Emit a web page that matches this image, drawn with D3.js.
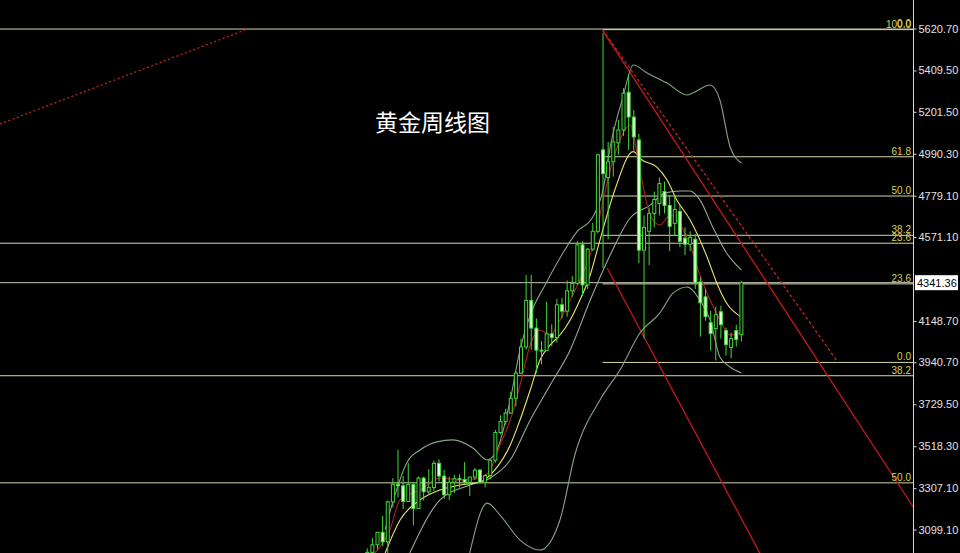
<!DOCTYPE html>
<html><head><meta charset="utf-8">
<script src="https://cdn.jsdelivr.net/npm/d3@7"></script>
<style>html,body{margin:0;padding:0;background:#000;overflow:hidden}</style>
</head><body>
<svg id="c" width="960" height="553"></svg>
<script>
// ---- weekly candles (XAUUSD) ----
const openP  = [2910,2984,3022,3085,3037,3238,3327,3319,3240,3325,3204,3358,3289,3310,3432,3368,3274,3337,3355,3350,3336,3363,3398,3336,3371,3448,3587,3643,3685,3760,3886,4018,4252,4113,4002,4000,4084,4065,4230,4198,4300,4338,4532,4330,4510,4600,5010,4870,4950,5045,5110,5300,5175,5060,4505,4600,4690,4740,4800,4730,4640,4700,4565,4535,4560,4345,4270,4140,4110,4195,4100,4015,4100,4080];
const highP  = [3004,3057,3086,3167,3245,3358,3500,3368,3435,3331,3366,3365,3403,3446,3452,3398,3365,3375,3377,3438,3363,3409,3404,3378,3453,3600,3674,3707,3791,3897,4059,4380,4381,4161,4047,4245,4132,4260,4264,4353,4374,4550,4550,4515,4643,4990,5598,5050,5125,5160,5320,5390,5210,5090,4680,4720,4800,4870,4850,4780,4780,4730,4620,4600,4585,4370,4310,4200,4220,4225,4115,4090,4130,4350];
const lowP   = [2880,2982,3000,3015,2957,3210,3260,3202,3238,3120,3204,3245,3278,3293,3340,3255,3247,3283,3310,3325,3268,3348,3330,3311,3351,3436,3578,3627,3683,3718,3880,4004,4004,3886,3930,3997,4022,4040,4162,4170,4271,4330,4274,4310,4500,4590,4415,4560,4875,4985,5080,5010,5000,4440,4060,4430,4620,4680,4690,4500,4580,4520,4480,4500,4310,4070,4150,4000,3950,4060,3975,3960,4020,4045];
const closeP = [2984,3022,3085,3037,3238,3327,3319,3240,3325,3204,3358,3289,3310,3432,3368,3274,3337,3355,3350,3336,3363,3398,3336,3371,3448,3587,3643,3685,3760,3886,4018,4252,4113,4002,4000,4084,4065,4230,4198,4300,4338,4532,4330,4510,4600,4985,4890,4950,5050,5110,5295,5175,5075,4505,4620,4690,4760,4840,4730,4625,4710,4550,4535,4570,4340,4240,4170,4085,4180,4130,4030,4060,4055,4341.36];

// ---- price axis ----
const tickValues = [5620.70,5409.50,5201.50,4990.30,4779.10,4571.10,4148.70,3940.70,3729.50,3518.30,3307.10,3099.10];
const lastPrice = 4341.36;

// ---- indicator lines: [bar index, price] ----
const maRed = [[1.5,2981],[4.4,3097],[6.4,3248],[10.3,3298],[14.2,3358],[18.1,3348],[22,3358],[24,3399],[25.9,3524],[27.9,3650],[29.8,3826],[31.8,4028],[33.7,4103],[35.7,4078],[37.6,4154],[39.6,4254],[41.5,4355],[43.5,4481],[45.4,4682],[47.4,4908],[49.3,5059],[51.3,5135],[53.2,4908],[55.2,4682],[57.1,4632],[59.1,4682],[61.1,4632],[63,4531],[64.9,4380],[66.9,4254],[68.8,4154],[70.8,4078],[73,4088]];
const maYellow = [[3.5,2981],[6.4,3147],[10.3,3248],[14.2,3298],[18.1,3323],[22,3338],[24.9,3399],[27.9,3524],[29.8,3650],[31.8,3801],[33.7,3952],[35.7,4028],[37.6,4078],[39.6,4154],[41.5,4254],[43.5,4380],[45.4,4556],[48.3,4808],[51.9,5001],[53.6,4959],[56.5,4923],[58.5,4858],[60.4,4758],[63,4657],[66.3,4471],[68.2,4340],[70.1,4239],[73,4168]];
const bbUpper = [[3.5,3100],[5.4,3273],[7.8,3439],[10.3,3499],[13.6,3540],[16.7,3550],[20.6,3509],[23.4,3449],[25.3,3499],[27.9,3751],[29.8,4003],[31.8,4179],[34.7,4330],[37.6,4466],[40.9,4597],[44,4672],[46,4808],[47.4,5024],[49.9,5276],[51.9,5437],[54.6,5397],[58.5,5346],[62.4,5286],[63.5,5296],[66.9,5336],[68.8,5261],[70.8,5024],[73,4944]];
const bbMid = [[8.3,2981],[14.2,3248],[20,3323],[24,3358],[27.9,3449],[31.8,3650],[35.7,3826],[39.6,4003],[43.5,4254],[47.4,4481],[51.3,4667],[55.2,4732],[58.1,4793],[61.1,4803],[63,4803],[64.9,4758],[67.4,4622],[70.1,4491],[73,4405]];
const bbLower = [[20,2981],[23.4,3232],[25.9,3172],[29.8,3046],[33.7,2996],[37.6,3147],[40.5,3474],[45.4,3751],[49.3,3902],[53.2,4088],[57.1,4189],[59.7,4290],[62.4,4320],[64.9,4254],[66.9,4154],[68.8,3967],[70.8,3917],[73,3887]];

// ---- drawn objects (anchors in bar index / price) ----
const fibShort = {from:[45.9,5615], to:[91.85,3940], levels:[0,23.6,38.2,50,61.8,100]};
const fibLong  = {zero:5618, hundred:1050, levels:[0,23.6,38.2,50,61.8]};
const trendTopLeft = [[-71.66,5140],[-23.85,5613]];
const channelUpper = [[46,5608],[96.1,3625]];
const channelLower = [[46.8,4415],[76.6,2980]];
const title = "黄金周线图";

// ---- scales ----
const W=960,H=553, plotRight=913;
const x = d3.scaleLinear().domain([0,73]).range([367.25,741.4]);
const y = d3.scaleLinear().domain([3099.1,5620.7]).range([529.5,28.5]);
const svg = d3.select("#c");
svg.append("rect").attr("width",W).attr("height",H).attr("fill","#000");
svg.append("defs").append("clipPath").attr("id","clip").append("rect").attr("x",0).attr("y",0).attr("width",plotRight).attr("height",H);
const g = svg.append("g").attr("clip-path","url(#clip)");

function ray(p){ const [a,b]=p; const xr=x.invert(plotRight+5); const t=(xr-a[0])/(b[0]-a[0]); return [a,[xr,a[1]+(b[1]-a[1])*t]]; }
const seg = d3.line().x(d=>x(d[0])).y(d=>y(d[1]));

const fibColor="#d6d6a6", fibText="#d2d25e", lblFont="Liberation Sans";
function fibLabel(p,l){
  svg.append("text").attr("x",plotRight-2).attr("y",y(p)-2).attr("text-anchor","end").attr("fill",fibText)
    .attr("font-family",lblFont).attr("font-size",10).text(l.toFixed(1));
}
fibLong.levels.forEach(l=>{
  const p=fibLong.zero-(fibLong.zero-fibLong.hundred)*l/100;
  g.append("line").attr("x1",0).attr("x2",plotRight).attr("y1",y(p)).attr("y2",y(p)).attr("stroke",fibColor).attr("stroke-width",1);
  if (y(p) < H) fibLabel(p,l);
});
fibShort.levels.forEach(l=>{
  const p=fibShort.to[1]+(fibShort.from[1]-fibShort.to[1])*l/100;
  g.append("line").attr("x1",x(fibShort.from[0])).attr("x2",plotRight).attr("y1",y(p)).attr("y2",y(p)).attr("stroke",fibColor).attr("stroke-width",1);
  fibLabel(p,l);
});
g.append("line").attr("x1",0).attr("x2",plotRight).attr("y1",y(lastPrice)).attr("y2",y(lastPrice)).attr("stroke","#c8c8b8").attr("stroke-width",1);

g.append("path").attr("d",seg(trendTopLeft)).attr("stroke","#c02424").attr("stroke-width",1.3).attr("stroke-dasharray","2,2.5").attr("fill","none");
g.append("path").attr("d",seg([fibShort.from,fibShort.to])).attr("stroke","#c02424").attr("stroke-width",1.3).attr("stroke-dasharray","3,2.5").attr("fill","none");
g.append("path").attr("d",seg(ray(channelUpper))).attr("stroke","#c81818").attr("stroke-width",1.3).attr("fill","none");
g.append("path").attr("d",seg(ray(channelLower))).attr("stroke","#c81818").attr("stroke-width",1.3).attr("fill","none");

const curve = d3.line().x(d=>x(d[0])).y(d=>y(d[1])).curve(d3.curveMonotoneX);
[[bbUpper,"#86a486"],[bbMid,"#94ad94"],[bbLower,"#86a486"],[maYellow,"#e8e870"],[maRed,"#b01e1e"]].forEach(([d,c])=>{
  g.append("path").attr("d",curve(d)).attr("stroke",c).attr("stroke-width",1.1).attr("fill","none");
});

const cg=g.append("g");
const candleGreen="#44d838";
openP.forEach((o,i)=>{
  const c=closeP[i], cx=x(i);
  cg.append("line").attr("x1",cx).attr("x2",cx).attr("y1",y(highP[i])).attr("y2",y(lowP[i])).attr("stroke",candleGreen).attr("stroke-width",1);
  const top=y(Math.max(o,c)), bot=y(Math.min(o,c));
  cg.append("rect").attr("x",cx-1.5).attr("y",top).attr("width",3).attr("height",Math.max(1,bot-top))
    .attr("fill",c>=o?"#000":"#dcffd0").attr("stroke",candleGreen).attr("stroke-width",1);
});

// axis
svg.append("line").attr("x1",plotRight+0.5).attr("x2",plotRight+0.5).attr("y1",0).attr("y2",H).attr("stroke","#d8d8d8");
const ax = svg.append("g").attr("transform",`translate(${plotRight+0.5},0)`).call(d3.axisRight(y).tickValues(tickValues).tickSize(3).tickPadding(2).tickFormat(d3.format(".2f")));
ax.select(".domain").remove();
ax.selectAll("line").attr("stroke","#d8d8d8");
ax.selectAll("text").attr("fill","#e0e0e0").attr("font-family",lblFont).attr("font-size",11);
svg.append("rect").attr("x",plotRight+2).attr("y",y(lastPrice)-7.5).attr("width",43).attr("height",15).attr("fill","#fff");
svg.append("text").attr("x",plotRight+4).attr("y",y(lastPrice)+4).attr("fill","#000").attr("font-family",lblFont).attr("font-size",11).text(lastPrice.toFixed(2));

svg.append("text").attr("x",375).attr("y",131).attr("fill","#fff").attr("font-family","Noto Sans CJK SC").attr("font-size",23).text(title);
</script>
</body></html>
